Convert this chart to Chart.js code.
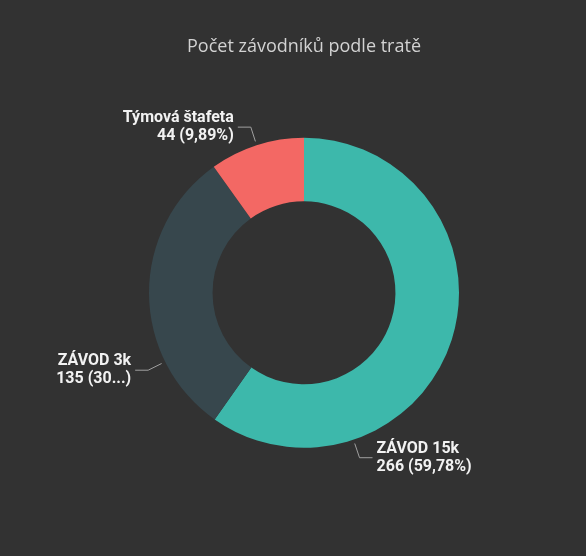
<!DOCTYPE html>
<html>
<head>
<meta charset="utf-8">
<script src="https://cdn.jsdelivr.net/npm/chart.js@4"></script>
<style>
  html, body { margin: 0; padding: 0; background: #323232; }
  #wrap { width: 586px; height: 556px; }
</style>
</head>
<body>
<div id="wrap"><canvas id="donut"></canvas></div>
<script>
// data
var categories = ['ZÁVOD 15k', 'ZÁVOD 3k', 'Týmová štafeta'];
var counts = [266, 135, 44];
var colors = ['#3DB8AB', '#37474D', '#F36864'];
var titleText = 'Počet závodníků podle tratě';

// where along each slice the label sits (0 = start, 1 = end), like Power BI placed them
var labelPos = [0.75, 0.26, 0.5];
// the 3k label gets cut short in the original
var pctChars = [0, 2, 0];

var total = counts.reduce(function(a, b) { return a + b; }, 0);

var bgPlugin = {
  id: 'bg',
  beforeDraw: function(chart) {
    var c = chart.ctx;
    c.save();
    c.fillStyle = '#323232';
    c.fillRect(0, 0, chart.width, chart.height);
    c.restore();
  }
};

var labelPlugin = {
  id: 'sliceLabels',
  afterDatasetsDraw: function(chart) {
    var c = chart.ctx;
    var meta = chart.getDatasetMeta(0);
    c.save();
    meta.data.forEach(function(arc, i) {
      var p = arc.getProps(['x', 'y', 'startAngle', 'endAngle', 'outerRadius'], true);
      var a = p.startAngle + labelPos[i] * (p.endAngle - p.startAngle);
      var cos = Math.cos(a), sin = Math.sin(a);
      var x0 = p.x + cos * (p.outerRadius + 4), y0 = p.y + sin * (p.outerRadius + 4);
      var x1 = p.x + cos * (p.outerRadius + 19), y1 = p.y + sin * (p.outerRadius + 19);
      var dir = cos >= 0 ? 1 : -1;
      var x2 = x1 + dir * 13;

      c.strokeStyle = '#a0a0a0';
      c.lineWidth = 1;
      c.beginPath();
      c.moveTo(x0, y0);
      c.lineTo(x1, y1);
      c.lineTo(x2, y1);
      c.stroke();

      var pct = (counts[i] / total * 100).toFixed(2).replace('.', ',') + '%';
      if (pctChars[i]) pct = pct.slice(0, pctChars[i]) + '...';
      var line2 = counts[i] + ' (' + pct + ')';

      c.fillStyle = '#F2F2F2';
      c.font = 'bold 16px Roboto, "DejaVu Sans Condensed", sans-serif';
      c.textAlign = dir > 0 ? 'left' : 'right';
      c.textBaseline = 'middle';
      var tx = x2 + dir * 4;
      c.fillText(categories[i], tx, y1 - 9);
      c.fillText(line2, tx, y1 + 9);
    });
    c.restore();
  }
};

var ctx = document.getElementById('donut').getContext('2d');
var chart = new Chart(ctx, {
  type: 'doughnut',
  data: {
    labels: categories,
    datasets: [
      {
        data: counts,
        backgroundColor: colors,
        hoverBackgroundColor: colors,
        borderWidth: 0,
      },
    ],
  },
  options: {
    responsive: true,
    maintainAspectRatio: false,
    animation: false,
    cutout: '59%',
    layout: {
      padding: { top: 0, bottom: 108, left: 149, right: 127 },
    },
    plugins: {
      legend: { display: false },
      tooltip: { enabled: false },
      title: {
        display: true,
        text: titleText,
        color: '#D2D2D2',
        font: { family: '"Open Sans", "Noto Sans", sans-serif', size: 18, weight: 'normal', lineHeight: 1.2 },
        padding: { top: 36, bottom: 80 },
      },
    },
  },
  plugins: [bgPlugin, labelPlugin],
});
</script>
</body>
</html>
